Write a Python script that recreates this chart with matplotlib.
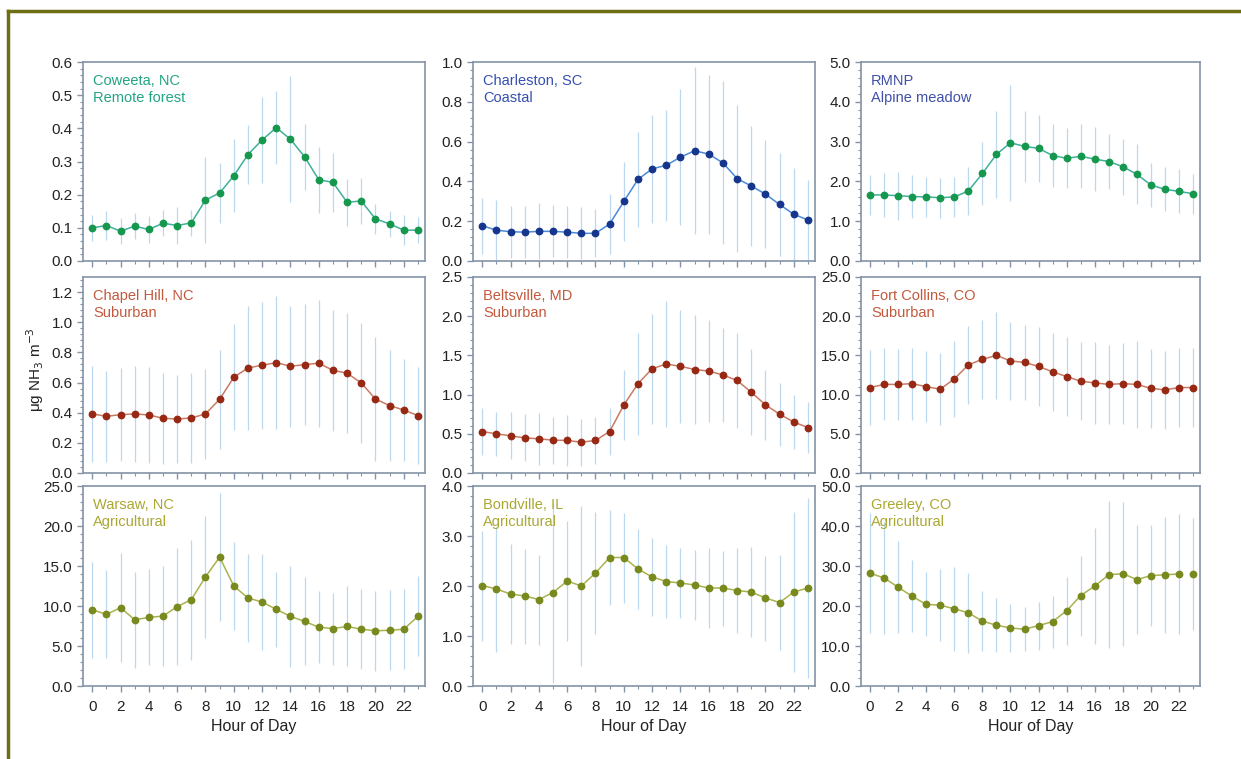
import numpy as np
import matplotlib.pyplot as plt
from matplotlib.ticker import MultipleLocator, AutoMinorLocator, FormatStrFormatter

plt.rcParams['font.family'] = ['Liberation Sans', 'DejaVu Sans']

hours = np.arange(24)

# --- data (mean and +/- spread per hour) ---
coweeta = [0.10, 0.107, 0.09, 0.105, 0.095, 0.114, 0.107, 0.115, 0.184, 0.205, 0.257, 0.321,
           0.365, 0.402, 0.367, 0.314, 0.245, 0.237, 0.177, 0.181, 0.127, 0.112, 0.093, 0.093]
coweeta_err = [0.04, 0.045, 0.04, 0.04, 0.04, 0.04, 0.055, 0.04, 0.13, 0.09, 0.11, 0.09,
               0.13, 0.11, 0.19, 0.10, 0.10, 0.09, 0.07, 0.07, 0.045, 0.04, 0.045, 0.04]

charleston = [0.177, 0.155, 0.147, 0.145, 0.149, 0.149, 0.145, 0.139, 0.139, 0.186, 0.299, 0.41,
              0.463, 0.481, 0.522, 0.554, 0.537, 0.493, 0.414, 0.377, 0.336, 0.284, 0.235, 0.206]
charleston_err = [0.14, 0.15, 0.13, 0.13, 0.14, 0.13, 0.13, 0.13, 0.12, 0.15, 0.2, 0.24,
                  0.27, 0.28, 0.34, 0.42, 0.40, 0.41, 0.37, 0.30, 0.27, 0.26, 0.23, 0.20]

rmnp = [1.66, 1.66, 1.64, 1.62, 1.61, 1.59, 1.61, 1.76, 2.2, 2.68, 2.97, 2.88,
        2.83, 2.65, 2.58, 2.63, 2.56, 2.5, 2.37, 2.18, 1.91, 1.8, 1.75, 1.69]
rmnp_err = [0.5, 0.55, 0.6, 0.55, 0.5, 0.5, 0.5, 0.6, 0.8, 1.1, 1.45, 0.9,
            0.85, 0.8, 0.75, 0.8, 0.8, 0.7, 0.7, 0.75, 0.55, 0.55, 0.55, 0.5]

chapel_hill = [0.392, 0.376, 0.387, 0.392, 0.385, 0.363, 0.358, 0.365, 0.392, 0.489, 0.635, 0.697,
               0.715, 0.732, 0.708, 0.719, 0.728, 0.681, 0.662, 0.597, 0.491, 0.447, 0.418, 0.381]
chapel_hill_err = [0.32, 0.3, 0.31, 0.32, 0.32, 0.3, 0.29, 0.3, 0.3, 0.33, 0.35, 0.41,
                   0.42, 0.44, 0.4, 0.4, 0.42, 0.4, 0.4, 0.4, 0.41, 0.37, 0.34, 0.32]

beltsville = [0.529, 0.5, 0.474, 0.448, 0.436, 0.419, 0.415, 0.393, 0.415, 0.529, 0.867, 1.14,
              1.33, 1.39, 1.36, 1.32, 1.30, 1.25, 1.18, 1.03, 0.87, 0.75, 0.65, 0.58]
beltsville_err = [0.3, 0.28, 0.3, 0.3, 0.33, 0.3, 0.32, 0.3, 0.3, 0.3, 0.45, 0.65,
                  0.7, 0.8, 0.72, 0.7, 0.65, 0.6, 0.6, 0.55, 0.45, 0.4, 0.35, 0.32]

fort_collins = [10.9, 11.3, 11.3, 11.4, 11.0, 10.7, 12.0, 13.8, 14.5, 15.0, 14.3, 14.1,
                13.6, 12.9, 12.3, 11.7, 11.5, 11.3, 11.4, 11.3, 10.8, 10.6, 10.9, 10.9]
fort_collins_err = [4.8, 4.6, 4.5, 4.6, 4.5, 4.6, 4.8, 5.0, 5.0, 5.5, 5.0, 4.8,
                    5.0, 5.0, 5.0, 5.0, 5.2, 5.0, 5.2, 5.5, 5.0, 5.0, 5.0, 5.0]

warsaw = [9.54, 8.95, 9.79, 8.28, 8.57, 8.74, 9.92, 10.8, 13.65, 16.1, 12.5, 11.0,
          10.5, 9.58, 8.7, 8.07, 7.35, 7.18, 7.44, 7.1, 6.9, 6.97, 7.1, 8.7]
warsaw_err = [6.0, 5.5, 6.8, 6.0, 6.0, 6.2, 7.3, 7.5, 7.6, 8.0, 5.5, 5.5,
              6.0, 4.7, 6.3, 5.5, 4.5, 4.5, 5.0, 5.0, 5.0, 5.0, 5.0, 5.0]

bondville = [2.01, 1.94, 1.84, 1.80, 1.73, 1.87, 2.10, 2.0, 2.26, 2.57, 2.57, 2.34,
             2.18, 2.09, 2.06, 2.02, 1.96, 1.96, 1.91, 1.88, 1.76, 1.67, 1.88, 1.96]
bondville_err = [1.1, 1.25, 1.0, 0.95, 0.9, 1.8, 1.2, 1.6, 1.22, 0.95, 0.9, 0.8,
                 0.78, 0.73, 0.7, 0.7, 0.8, 0.75, 0.85, 0.9, 0.85, 0.95, 1.6, 1.8]

greeley = [28.2, 27.0, 24.7, 22.4, 20.4, 20.2, 19.3, 18.3, 16.2, 15.2, 14.5, 14.2,
           15.1, 16.1, 18.8, 22.6, 25.0, 27.8, 28.1, 26.6, 27.6, 27.8, 28.0, 28.0]
greeley_err = [15, 14, 11.5, 9, 8, 9, 10.5, 10, 7.5, 6.8, 6, 5.5,
               6, 6.5, 8.5, 10, 14.6, 18.4, 18, 13.6, 12.7, 14.5, 15, 14]

# colours: marker, line, label text
green = ('#15984e', '#3fb09a', '#22a584')
blue = ('#16358c', '#4a8ad8', '#3550b0')
red = ('#962814', '#c97a64', '#c2583c')
olive = ('#788a1e', '#a9b24e', '#aaa832')

panels = [
    ("Coweeta, NC\nRemote forest", coweeta, coweeta_err, 0.6, 0.1, green, None),
    ("Charleston, SC\nCoastal", charleston, charleston_err, 1.0, 0.2, blue, None),
    ("RMNP\nAlpine meadow", rmnp, rmnp_err, 5.0, 1.0, green, '#4050a8'),
    ("Chapel Hill, NC\nSuburban", chapel_hill, chapel_hill_err, 1.3, 0.2, red, None),
    ("Beltsville, MD\nSuburban", beltsville, beltsville_err, 2.5, 0.5, red, None),
    ("Fort Collins, CO\nSuburban", fort_collins, fort_collins_err, 25.0, 5.0, red, None),
    ("Warsaw, NC\nAgricultural", warsaw, warsaw_err, 25.0, 5.0, olive, None),
    ("Bondville, IL\nAgricultural", bondville, bondville_err, 4.0, 1.0, olive, None),
    ("Greeley, CO\nAgricultural", greeley, greeley_err, 50.0, 10.0, olive, None),
]

W, H = 1241, 759
fig = plt.figure(figsize=(W / 100, H / 100), dpi=100)

cols = [(83, 425), (473, 815), (861, 1200)]
rows = [(62, 261), (277, 473), (486, 686)]
spine_col = '#8493a6'

for i, (label, vals, err, ymax, step, colset, txtcol) in enumerate(panels):
    r, c = divmod(i, 3)
    x0, x1 = cols[c]
    y0, y1 = rows[r]
    ax = fig.add_axes([x0 / W, 1 - y1 / H, (x1 - x0) / W, (y1 - y0) / H])
    mk, ln, tx = colset
    if txtcol:
        tx = txtcol
    ax.errorbar(hours, vals, yerr=err, fmt='none', ecolor='#bcd8ee', elinewidth=0.9, capsize=0, zorder=1)
    # Greeley's last point is not joined to the line
    nline = 23 if i == 8 else 24
    ax.plot(hours[:nline], vals[:nline], color=ln, lw=1.1, zorder=2)
    ax.plot(hours, vals, 'o', color=mk, ms=4.6, zorder=3)
    ax.text(0.03, 0.94, label, transform=ax.transAxes, color=tx, fontsize=10.5,
            va='top', ha='left', linespacing=1.3)

    ax.set_xlim(-0.65, 23.5)
    ax.set_ylim(0, ymax)
    ax.xaxis.set_major_locator(MultipleLocator(2))
    ax.xaxis.set_minor_locator(MultipleLocator(1))
    ax.yaxis.set_major_locator(MultipleLocator(step))
    ax.yaxis.set_minor_locator(AutoMinorLocator(5))
    ax.yaxis.set_major_formatter(FormatStrFormatter('%.1f'))
    ax.tick_params(which='both', direction='out', color=spine_col, labelsize=11, labelcolor='#222222')
    ax.tick_params(which='major', length=4, width=1)
    ax.tick_params(which='minor', length=2.5, width=0.8)
    ax.tick_params(axis='x', which='major', pad=6)
    for s in ax.spines.values():
        s.set_color(spine_col)
        s.set_linewidth(1.2)
    if r < 2:
        ax.tick_params(axis='x', labelbottom=False)
    else:
        ax.set_xlabel("Hour of Day", fontsize=11.5, color='#222222', labelpad=4)

fig.text(35 / W, 1 - 370 / H, "μg NH$_3$ m$^{-3}$", rotation=90, ha='center', va='center',
         fontsize=11, color='#222222')

# olive frame around the figure (top and left edges)
frame = '#6e6e14'
fig.add_artist(plt.Line2D([8 / W, 1], [1 - 11 / H, 1 - 11 / H], transform=fig.transFigure, color=frame, lw=2.5))
fig.add_artist(plt.Line2D([8 / W, 8 / W], [0, 1 - 11 / H], transform=fig.transFigure, color=frame, lw=2.5))

fig.savefig("out.png", dpi=100)
